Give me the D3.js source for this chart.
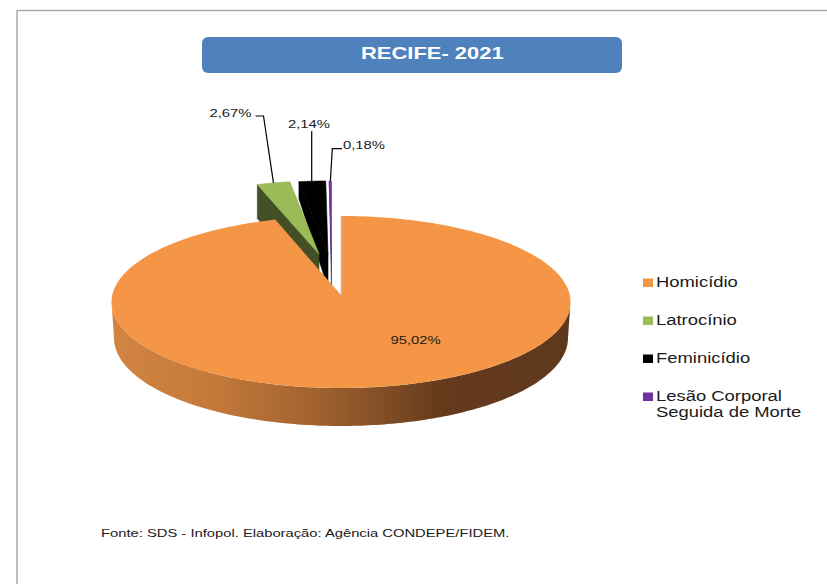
<!DOCTYPE html>
<html>
<head>
<meta charset="utf-8">
<script src="https://cdn.jsdelivr.net/npm/d3@7"></script>
<style>
  body { margin: 0; background: #fff; }
  svg { display: block; }
  text { font-family: "Liberation Sans", Arial, sans-serif; fill: #1a1a1a; }
</style>
</head>
<body>
<svg id="chart" width="827" height="584"></svg>
<script>
const categories = ["Homicídio", "Latrocínio", "Feminicídio", "Lesão Corporal\nSeguida de Morte"];
const shares = [95.02, 2.67, 2.14, 0.18];
const titleText = "RECIFE- 2021";
const sourceText = "Fonte: SDS - Infopol. Elaboração: Agência CONDEPE/FIDEM.";

const topColors = ["#F49645", "#9BBB59", "#000000", "#7030A0"];
const wallColors = [null, "#434F25", "#000000", "#4A2070"];

const svg = d3.select("#chart");

// the source picture is stretched sideways, text has to follow
function wideText(sel, stretch) {
  sel.each(function() {
    d3.select(this)
      .attr("textLength", this.getComputedTextLength() * stretch)
      .attr("lengthAdjust", "spacingAndGlyphs");
  });
  return sel;
}

// frame
svg.append("line").attr("x1", 17).attr("y1", 10.5).attr("x2", 827).attr("y2", 10.5)
  .attr("stroke", "#aaa").attr("stroke-width", 1.5);
svg.append("line").attr("x1", 17).attr("y1", 10).attr("x2", 17).attr("y2", 584)
  .attr("stroke", "#aaa").attr("stroke-width", 1.5);

// title box
svg.append("rect").attr("x", 202).attr("y", 37).attr("width", 420).attr("height", 36)
  .attr("rx", 6).attr("fill", "#4F81BD");
svg.append("text").attr("x", 361).attr("y", 58.5)
  .attr("font-size", 17).attr("font-weight", "bold")
  .style("fill", "#fff").text(titleText).call(wideText, 1.29);

// pie angles, clockwise from 12 o'clock
const slices = d3.pie().sort(null).value(d => d)(shares);

const big = { cx: 341, cy: 302, rx: 229.5, ry: 86, apexY: 295 };
const bottom = { cx: 341, cy: 338, rx: 227, ry: 88 };
const small = { cx: 331.5, cy: 254, rx: 200, ry: 73, depth: 34 };
const apexX = [null, 319, 328, 331.5];
const cornerDrop = [null, 34, 17, 0];
// the big slice stops a little short of its nominal end in the 3D view
const bigEndTrim = 1.3 * Math.PI / 180;

const pt = (e, a, cx) => [(cx === undefined ? e.cx : cx) + e.rx * Math.sin(a), e.cy - e.ry * Math.cos(a)];
const line = d3.line();

function arcPts(e, a0, a1, cx) {
  const n = Math.max(2, Math.ceil(Math.abs(a1 - a0) * 60));
  return d3.range(n + 1).map(i => pt(e, a0 + (a1 - a0) * i / n, cx));
}

const defs = svg.append("defs");
const grad = defs.append("linearGradient").attr("id", "wallGrad")
  .attr("gradientUnits", "userSpaceOnUse")
  .attr("x1", big.cx - big.rx).attr("x2", big.cx + big.rx).attr("y1", 0).attr("y2", 0);
[[0, "#D28543"], [0.2, "#C67B3B"], [0.45, "#A0622F"], [0.62, "#7A4A23"], [0.72, "#643A1C"], [1, "#5F381B"]]
  .forEach(s => grad.append("stop").attr("offset", s[0]).attr("stop-color", s[1]));

const pieG = svg.append("g");

// exploded small slices, back to front
[3, 2, 1].forEach(i => {
  const s = slices[i];
  const ax = apexX[i];
  const corner = pt(small, s.startAngle, ax);
  const wall = [corner, [ax, small.cy], [ax, small.cy + small.depth], [corner[0], corner[1] + cornerDrop[i]]];
  pieG.append("path").attr("d", line(wall) + "Z")
    .attr("fill", wallColors[i]).attr("stroke", wallColors[i]).attr("stroke-width", 0.6);
  const top = [[ax, small.cy]].concat(arcPts(small, s.startAngle, s.endAngle, ax));
  pieG.append("path").attr("d", line(top) + "Z")
    .attr("fill", topColors[i]).attr("stroke", topColors[i]).attr("stroke-width", 0.6);
});

// big slice: wall then top face
const wallPts = arcPts(big, Math.PI / 2, Math.PI * 1.5)
  .concat(arcPts(bottom, Math.PI * 1.5, Math.PI / 2));
pieG.append("path").attr("d", line(wallPts) + "Z").attr("fill", "url(#wallGrad)");
const bigTop = [[big.cx, big.apexY]].concat(arcPts(big, slices[0].startAngle, slices[0].endAngle + bigEndTrim));
pieG.append("path").attr("d", line(bigTop) + "Z").attr("fill", topColors[0]);
pieG.append("line").attr("x1", big.cx).attr("y1", big.cy - big.ry).attr("x2", big.cx).attr("y2", big.apexY)
  .attr("stroke", "#cfcfcf").attr("stroke-width", 0.8);

// value labels
const pct = v => v.toFixed(2).replace(".", ",") + "%";
const labelPos = [[390.5, 344], [209.5, 117], [288, 128], [343, 149]];
shares.forEach((v, i) => {
  svg.append("text").attr("x", labelPos[i][0]).attr("y", labelPos[i][1])
    .attr("font-size", 11.5).text(pct(v)).call(wideText, 1.29);
});

// leader lines end on the middle of each slice's rim
const leaderStart = [null, [[255.5, 116], [263.5, 116]], [[311.7, 131]], [[342, 148.7], [332.3, 148.7]]];
[1, 2, 3].forEach(i => {
  const s = slices[i];
  const end = pt(small, (s.startAngle + s.endAngle) / 2, apexX[i]);
  const ln = leaderStart[i].concat([i === 2 ? [leaderStart[i][0][0], end[1]] : end]);
  svg.append("path").attr("d", line(ln)).attr("fill", "none")
    .attr("stroke", "#000").attr("stroke-width", 1.2);
});

// legend
const legendY = [287, 325, 363, 401];
categories.forEach((c, i) => {
  svg.append("rect").attr("x", 643).attr("y", legendY[i] - 8.5).attr("width", 10).attr("height", 8.5)
    .attr("fill", topColors[i]);
  c.split("\n").forEach((t, j) => {
    svg.append("text").attr("x", 656).attr("y", legendY[i] + j * 16)
      .attr("font-size", 14).text(t).call(wideText, 1.315);
  });
});

// source
svg.append("text").attr("x", 101).attr("y", 536.5)
  .attr("font-size", 11.5).text(sourceText).call(wideText, 1.283);
</script>
</body>
</html>
